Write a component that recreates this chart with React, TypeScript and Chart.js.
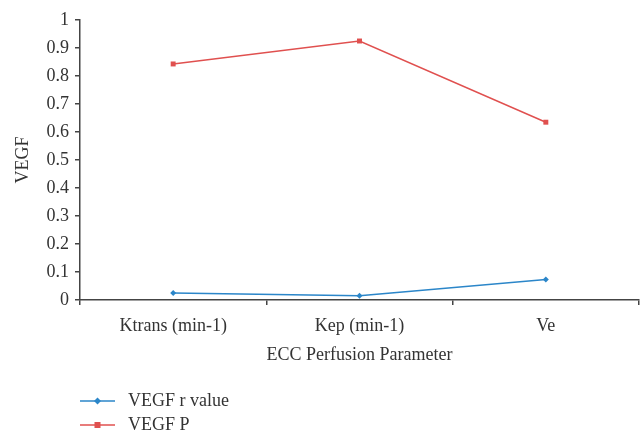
import React, { useEffect, useRef } from "react";
import { Chart, registerables } from "chart.js";

Chart.register(...registerables);

const categories = ["Ktrans (min-1)", "Kep (min-1)", "Ve"];
const rValues = [0.025, 0.015, 0.073];
const pValues = [0.843, 0.925, 0.635];
const seriesNames = ["VEGF r value", "VEGF P"];

const FONT = "'Liberation Serif', 'DejaVu Serif', serif";
const FS = 18;
const BLUE = "#2b86c9";
const RED = "#e0504f";

const legendPlugin = {
  id: "customLegend",
  afterDraw(chart: any) {
    const ctx = chart.ctx;
    ctx.save();
    chart.data.datasets.forEach((ds: any, i: number) => {
      const y = 401 + i * 24;
      ctx.strokeStyle = ds.borderColor;
      ctx.lineWidth = 1.5;
      ctx.beginPath();
      ctx.moveTo(80, y);
      ctx.lineTo(115, y);
      ctx.stroke();
      ctx.fillStyle = ds.borderColor;
      if (ds.pointStyle === "rect") {
        ctx.fillRect(97.5 - 3, y - 3, 6, 6);
      } else {
        ctx.beginPath();
        ctx.moveTo(97.5, y - 3.5);
        ctx.lineTo(101, y);
        ctx.lineTo(97.5, y + 3.5);
        ctx.lineTo(94, y);
        ctx.closePath();
        ctx.fill();
      }
      ctx.fillStyle = "#333";
      ctx.font = `${FS}px ${FONT}`;
      ctx.textBaseline = "middle";
      ctx.textAlign = "left";
      ctx.fillText(ds.label, 128, y);
    });
    ctx.restore();
  },
};

export default function App() {
  const ref = useRef<HTMLCanvasElement>(null);
  useEffect(() => {
    if (!ref.current) return;
    const chart = new Chart(ref.current, {
      type: "line",
      data: {
        labels: categories,
        datasets: [
          {
            label: seriesNames[0],
            data: rValues,
            borderColor: BLUE,
            backgroundColor: BLUE,
            borderWidth: 1.5,
            pointStyle: "rectRot",
            pointRadius: 3,
            pointBorderWidth: 0,
          },
          {
            label: seriesNames[1],
            data: pValues,
            borderColor: RED,
            backgroundColor: RED,
            borderWidth: 1.5,
            pointStyle: "rect",
            pointRadius: 3.5,
            pointBorderWidth: 0,
          },
        ],
      },
      options: {
        animation: false,
        responsive: false,
        maintainAspectRatio: false,
        layout: { padding: { top: 20, right: 3, bottom: 70, left: 0 } },
        plugins: { legend: { display: false }, tooltip: { enabled: false } },
        scales: {
          x: {
            offset: true,
            grid: {
              display: true,
              offset: true,
              drawOnChartArea: false,
              drawTicks: true,
              tickLength: 5,
              color: "#444",
              lineWidth: 1.5,
            },
            border: { display: true, color: "#444", width: 1.5 },
            ticks: { color: "#333", font: { family: FONT, size: FS }, padding: 10 },
            title: {
              display: true,
              text: "ECC Perfusion Parameter",
              color: "#333",
              font: { family: FONT, size: FS },
              padding: { top: 8, bottom: 0 },
            },
            afterFit(scale: any) {
              scale.height = 66;
            },
          },
          y: {
            min: 0,
            max: 1,
            grid: {
              display: true,
              drawOnChartArea: false,
              drawTicks: true,
              tickLength: 5,
              color: "#444",
              lineWidth: 1.5,
            },
            border: { display: true, color: "#444", width: 1.5 },
            ticks: {
              stepSize: 0.1,
              color: "#333",
              font: { family: FONT, size: FS },
              padding: 6,
              callback: (v: any) => String(Math.round(Number(v) * 10) / 10),
            },
            title: {
              display: true,
              text: "VEGF",
              color: "#333",
              font: { family: FONT, size: FS },
              padding: { top: 12, bottom: 4 },
            },
            afterFit(scale: any) {
              scale.width = 80;
            },
          },
        },
      },
      plugins: [legendPlugin],
    });
    return () => chart.destroy();
  }, []);
  return (
    <div style={{ position: "fixed", left: 0, top: 0, width: 643, height: 436, background: "#fff" }}>
      <canvas ref={ref} width={643} height={436} />
    </div>
  );
}
